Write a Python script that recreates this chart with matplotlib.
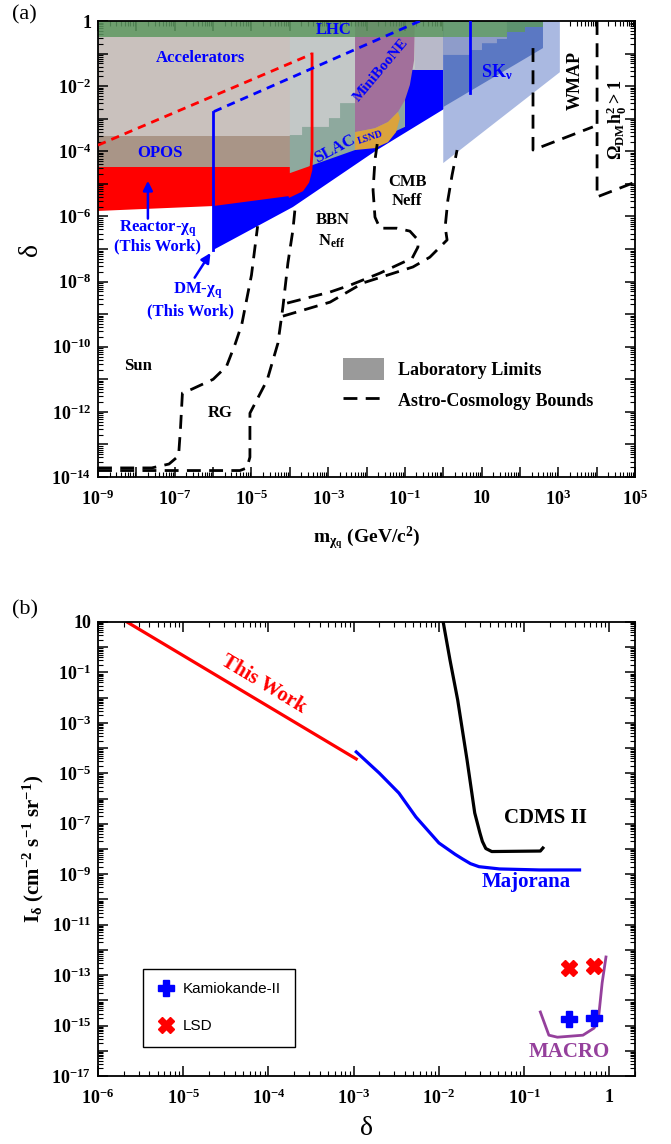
import numpy as np
import matplotlib.pyplot as plt
from matplotlib.patches import Patch
from matplotlib.lines import Line2D
from matplotlib.ticker import FixedLocator, LogLocator, NullFormatter, FuncFormatter

plt.rcParams['font.family'] = 'Liberation Serif'
plt.rcParams['font.weight'] = 'bold'
plt.rcParams['axes.labelweight'] = 'bold'
plt.rcParams['mathtext.default'] = 'regular'

# ---------------- panel (a): log10(m / GeV c^-2) and log10(delta) ----------------
lhc_logm = [-9, 2.60, 2.60, 2.13, 2.13, 1.66, 1.66, -9]
lhc_logd = [0, 0, -0.18, -0.18, -0.34, -0.34, -0.49, -0.49]

acc_logm = [-9, -4, -4, -9]
acc_logd = [0, 0, -3.53, -3.53]
opos_logm = [-9, -4, -4, -9]
opos_logd = [-3.53, -3.53, -4.48, -4.48]
beam_logm = [-4, 0, 0, -1, -1, -4]
beam_logd = [0, 0, -1.5, -1.5, -3.25, -3.6]
beam2_logm = [-0.74, 0, 0, -0.74]
beam2_logd = [0, 0, -1.5, -1.5]

slac_logm = [-4, -4, -3.68, -3.68, -2.98, -2.98, -2.69, -2.69, -2.30, -2.30, -1.21, -1.21, -1.0, -1.0, -2.30]
slac_logd = [-4.67, -3.50, -3.50, -3.25, -3.25, -2.98, -2.98, -2.52, -2.52, -1.96, -1.96, -1.50, -1.50, -3.25, -3.96]

mini_logm = [-2.30, -0.74, -0.76, -0.87, -1.0, -1.18, -1.44, -1.78, -2.30]
mini_logd = [0, 0, -1.20, -1.96, -2.43, -2.79, -3.10, -3.29, -3.41]

lsnd_logm = [-2.30, -1.78, -1.44, -1.18, -1.13, -1.23, -1.44, -1.78, -2.30]
lsnd_logd = [-3.41, -3.29, -3.10, -2.79, -2.98, -3.41, -3.72, -3.90, -3.96]

sk_light_logm = [0, 3.04, 3.04, 0]
sk_light_logd = [0, 0, -1.57, -4.36]
sk_strip_logm = [0, 1.66, 1.66, 0]
sk_strip_logd = [-0.49, -0.49, -1.04, -1.04]
sk_logm = [0, 0.70, 0.70, 1.01, 1.01, 1.40, 1.40, 1.66, 1.66, 2.60, 2.60, 0]
sk_logd = [-1.04, -1.04, -0.89, -0.89, -0.68, -0.68, -0.55, -0.55, 0, 0, -0.83, -2.64]

dm_logm = [-6.0, -3.92, -1.73, 0.70, 0.70, -0.61, -6.0]
dm_logd = [-7.03, -5.71, -3.96, -2.21, 0, 0, -2.79]

reactor_logm = [-9.0, -6.0, -4.0, -3.68, -3.53, -3.45, -3.42, -3.42, -9.0]
reactor_logd = [-5.83, -5.68, -5.37, -5.19, -4.94, -4.57, -4.0, -1.01, -3.81]

sun_logm = [-9.0, -7.6, -7.15, -6.9, -6.85, -6.8, -6.55, -6.0, -5.65, -5.42, -5.25, -5.0, -4.84]
sun_logd = [-13.72, -13.72, -13.6, -13.35, -12.5, -11.42, -11.3, -11.0, -10.6, -9.9, -9.3, -7.8, -6.3]
rg_logm = [-9.0, -5.3, -5.12, -5.04, -5.04, -4.59, -4.31, -4.18, -4.05, -3.92, -3.86]
rg_logd = [-13.8, -13.8, -13.72, -13.39, -12.04, -11.02, -9.89, -8.78, -7.43, -6.42, -5.71]
bbn_in_logm = [-4.07, -2.95, -2.43, -1.65, -0.81, -0.66, -0.66, -0.87, -1.21, -1.65, -1.78, -1.83, -1.78, -1.70]
bbn_in_logd = [-8.66, -8.32, -8.11, -7.74, -7.28, -6.94, -6.72, -6.45, -6.36, -6.36, -6.02, -5.19, -4.27, -3.59]
bbn_out_logm = [-4.18, -2.95, -2.09, -0.79, -0.35, 0.10, 0.05, 0.12, 0.23, 0.36]
bbn_out_logd = [-9.06, -8.63, -8.04, -7.55, -7.25, -6.72, -6.32, -5.50, -4.73, -3.96]
wmap_logm = [2.34, 2.34, 3.90]
wmap_logd = [-0.83, -3.96, -3.25]
omega_logm = [4.01, 4.01, 4.95, 5.0]
omega_logd = [0, -5.40, -4.97, -4.94]

# ---------------- panel (b): log10(delta) and log10(I) ----------------
thiswork_logx = [-5.66, -2.97]
thiswork_logy = [1.0, -4.43]
majorana_logx = [-2.97, -2.70, -2.47, -2.27, -2.00, -1.81, -1.72, -1.63, -1.53, -1.29, -0.82, -0.35]
majorana_logy = [-4.15, -4.99, -5.78, -6.73, -7.76, -8.21, -8.40, -8.58, -8.70, -8.79, -8.83, -8.83]
cdms_logx = [-1.95, -1.87, -1.78, -1.67, -1.58, -1.52, -1.49, -1.45, -1.38, -0.81, -0.78]
cdms_logy = [1.0, -0.51, -2.09, -4.47, -6.57, -7.35, -7.70, -7.98, -8.10, -8.08, -7.96]
macro_logx = [-0.81, -0.71, -0.61, -0.31, -0.18, -0.13, -0.085, -0.04]
macro_logy = [-14.46, -15.38, -15.46, -15.38, -15.10, -14.78, -13.31, -12.28]
kamioka_delta = [1 / 3, 2 / 3]
kamioka_flux = [1.8e-15, 2.0e-15]
lsd_delta = [1 / 3, 2 / 3]
lsd_flux = [1.9e-13, 2.3e-13]

BLUE = '#0000ff'


def pw(a):
    return 10.0 ** np.asarray(a, dtype=float)


def fmt_every(parity):
    def f(v, pos):
        e = int(round(np.log10(v)))
        if parity is not None and e % 2 != parity:
            return ''
        if e == 0:
            return '1'
        if e == 1:
            return '10'
        return r'$10^{%d}$' % e
    return FuncFormatter(f)


def style_axis(ax):
    ax.tick_params(which='both', direction='in', top=True, right=True, labelsize=13)
    ax.tick_params(axis='x', which='major', pad=9)
    ax.tick_params(axis='y', which='major', pad=5)
    ax.tick_params(which='major', length=7, width=1.1)
    ax.tick_params(which='minor', length=3.5, width=0.8)
    for s in ax.spines.values():
        s.set_linewidth(1.3)


fig = plt.figure(figsize=(6.71, 11.44), dpi=100)

# ======================= (a) =======================
ax = fig.add_axes([0.1461, 0.5830, 0.8003, 0.3986])
ax.set_xscale('log')
ax.set_yscale('log')
ax.set_xlim(1e-9, 1e5)
ax.set_ylim(1e-14, 1)

ax.fill(pw(dm_logm), pw(dm_logd), color=BLUE, lw=0, zorder=1)
ax.fill(pw(reactor_logm), pw(reactor_logd), color='#ff0000', lw=0, zorder=1.1)
ax.fill(pw(acc_logm), pw(acc_logd), color='#c9c1bd', lw=0, zorder=1.2)
ax.fill(pw(opos_logm), pw(opos_logd), color='#a99587', lw=0, zorder=1.3)
ax.fill(pw(beam_logm), pw(beam_logd), color='#c3c8c7', lw=0, zorder=1.2)
ax.fill(pw(beam2_logm), pw(beam2_logd), color='#b8b9c9', lw=0, zorder=1.25)
ax.fill(pw(slac_logm), pw(slac_logd), color='#8ea99e', lw=0, zorder=1.4)
ax.fill(pw(mini_logm), pw(mini_logd), color='#a2709b', lw=0, zorder=1.5)
ax.fill(pw(lsnd_logm), pw(lsnd_logd), color='#dba33c', lw=0, zorder=1.5)
ax.fill(pw(sk_light_logm), pw(sk_light_logd), color='#aab9e1', lw=0, zorder=1.6)
ax.fill(pw(sk_strip_logm), pw(sk_strip_logd), color='#8e9cca', lw=0, zorder=1.65)
ax.fill(pw(sk_logm), pw(sk_logd), color='#5b78c3', lw=0, zorder=1.7)
ax.fill(pw(lhc_logm), pw(lhc_logd), color='#5e9861', alpha=0.85, lw=0, zorder=1.8)

# reactor and DM limit lines
rm, rd = np.array(reactor_logm), np.array(reactor_logd)
ax.plot(pw(rm[2:8]), pw(rd[2:8]), color='#ff0000', lw=2.0, zorder=3)
ax.plot(pw(rm[[8, 7]]), pw(rd[[8, 7]]), color='#ff0000', lw=2.0, dashes=(3, 2.2), zorder=3)
dmm, dmd = np.array(dm_logm), np.array(dm_logd)
ax.plot(pw(dmm[[6, 0]]), pw(dmd[[6, 0]]), color=BLUE, lw=2.0, zorder=3)
ax.plot(pw(dmm[[3, 4]]), pw(dmd[[3, 4]]), color=BLUE, lw=2.0, zorder=3)
ax.plot(pw(dmm[[5, 6]]), pw(dmd[[5, 6]]), color=BLUE, lw=2.0, dashes=(3, 2.2), zorder=3)

# astro / cosmology bounds
dash = (5, 3)
for lm, ld in [(sun_logm, sun_logd), (rg_logm, rg_logd), (bbn_in_logm, bbn_in_logd),
               (bbn_out_logm, bbn_out_logd), (wmap_logm, wmap_logd), (omega_logm, omega_logd)]:
    ax.plot(pw(lm), pw(ld), color='k', lw=2.0, dashes=dash, zorder=3)

# labels
tkw = dict(ha='center', va='center', fontsize=12, zorder=5)
ax.text(10**-2.87, 10**-0.27, 'LHC', color=BLUE, **tkw)
ax.text(10**-6.34, 10**-1.14, 'Accelerators', color=BLUE, **tkw)
ax.text(10**-7.38, 10**-4.05, 'OPOS', color=BLUE, **tkw)
ax.text(10**-7.44, 10**-6.39, 'Reactor-χ$_q$', color=BLUE, **tkw)
ax.text(10**-7.46, 10**-6.93, '(This Work)', color=BLUE, **tkw)
ax.text(10**-6.39, 10**-8.29, 'DM-χ$_q$', color=BLUE, **tkw)
ax.text(10**-6.60, 10**-8.90, '(This Work)', color=BLUE, **tkw)
ax.annotate('', xy=(10**-7.70, 10**-4.82), xytext=(10**-7.70, 10**-6.15),
            arrowprops=dict(arrowstyle='-|>', color=BLUE, lw=1.8, mutation_scale=14), zorder=5)
ax.annotate('', xy=(10**-6.03, 10**-7.05), xytext=(10**-6.52, 10**-7.95),
            arrowprops=dict(arrowstyle='-|>', color=BLUE, lw=1.8, mutation_scale=14), zorder=5)
ax.text(10**-2.84, 10**-3.92, 'SLAC', color=BLUE, rotation=28, **tkw)
ax.text(10**-1.90, 10**-3.58, 'LSND', color=BLUE, rotation=18, ha='center', va='center',
        fontsize=7, zorder=5)
ax.text(10**-1.62, 10**-1.50, 'MiniBooNE', color=BLUE, rotation=50, ha='center', va='center',
        fontsize=11, zorder=5)
ax.text(10**1.40, 10**-1.57, '$SK_{\\nu}$', color=BLUE, ha='center', va='center', fontsize=13, zorder=5)
ax.text(10**3.43, 10**-1.81, 'WMAP', color='k', rotation=90, ha='center', va='center', fontsize=13, zorder=5)
ax.text(10**4.53, 10**-3.04, '$\\Omega_{DM}h_0^2 > 1$', color='k', rotation=90, ha='center',
        va='center', fontsize=13, zorder=5)
ax.text(10**-0.94, 10**-4.94, 'CMB', color='k', **tkw)
ax.text(10**-0.94, 10**-5.53, 'Neff', color='k', **tkw)
ax.text(10**-2.87, 10**-6.11, 'BBN', color='k', **tkw)
ax.text(10**-2.90, 10**-6.75, '$N_{eff}$', color='k', **tkw)
ax.text(10**-7.96, 10**-10.59, 'Sun', color='k', **tkw)
ax.text(10**-5.82, 10**-12.04, 'RG', color='k', **tkw)

handles = [Patch(facecolor='#9a9a9a', edgecolor='none'),
           Line2D([], [], color='k', lw=2.0, dashes=dash)]
ax.legend(handles, ['Laboratory Limits', 'Astro-Cosmology Bounds'], loc='upper left',
          bbox_to_anchor=(0.425, 0.296), frameon=False, fontsize=13, handlelength=2.3,
          handleheight=1.5, labelspacing=0.5, handletextpad=0.8)

ax.xaxis.set_major_locator(FixedLocator(10.0 ** np.arange(-9, 6)))
ax.xaxis.set_major_formatter(fmt_every(1))
ax.yaxis.set_major_locator(FixedLocator(10.0 ** np.arange(-14, 1)))
ax.yaxis.set_major_formatter(fmt_every(0))
for a in (ax.xaxis, ax.yaxis):
    a.set_minor_locator(LogLocator(base=10, subs=np.arange(2, 10), numticks=100))
    a.set_minor_formatter(NullFormatter())
style_axis(ax)
ax.set_xlabel('m$_{χ_q}$ (GeV/c$^2$)', fontsize=14, labelpad=11)
ax.set_ylabel('δ', fontsize=20, fontweight='normal', labelpad=6)

# ======================= (b) =======================
bx = fig.add_axes([0.1461, 0.0594, 0.8003, 0.3969])
bx.set_xscale('log')
bx.set_yscale('log')
bx.set_xlim(1e-6, 2)
bx.set_ylim(1e-17, 10)

bx.plot(pw(thiswork_logx), pw(thiswork_logy), color='#ff0000', lw=2.3)
bx.plot(pw(majorana_logx), pw(majorana_logy), color=BLUE, lw=2.3)
bx.plot(pw(cdms_logx), pw(cdms_logy), color='k', lw=2.3)
bx.plot(pw(macro_logx), pw(macro_logy), color='#95409c', lw=2.0)
bx.plot(kamioka_delta, kamioka_flux, ls='none', marker='P', ms=11, color=BLUE, mec=BLUE,
        label='Kamiokande-II')
bx.plot(lsd_delta, lsd_flux, ls='none', marker='X', ms=11, color='#ff0000', mec='#ff0000',
        label='LSD')

bx.text(10**-4.06, 10**-1.46, 'This Work', color='#ff0000', rotation=-31, ha='center',
        va='center', fontsize=15)
bx.text(10**-0.75, 10**-6.77, 'CDMS II', color='k', ha='center', va='center', fontsize=15)
bx.text(10**-0.98, 10**-9.31, 'Majorana', color=BLUE, ha='center', va='center', fontsize=15)
bx.text(10**-0.47, 10**-16.05, 'MACRO', color='#95409c', ha='center', va='center', fontsize=15)

leg = bx.legend(loc='lower left', bbox_to_anchor=(0.084, 0.064), borderaxespad=0,
                frameon=True, fancybox=False, edgecolor='k', framealpha=1,
                prop=dict(family='Liberation Sans', weight='normal', size=11),
                labelspacing=1.5, borderpad=0.9, handletextpad=0.5, handlelength=1.2)
leg.get_frame().set_linewidth(1.0)

bx.xaxis.set_major_locator(FixedLocator(10.0 ** np.arange(-6, 1)))
bx.xaxis.set_major_formatter(fmt_every(None))
bx.yaxis.set_major_locator(FixedLocator(10.0 ** np.arange(-17, 2)))
bx.yaxis.set_major_formatter(fmt_every(1))
for a in (bx.xaxis, bx.yaxis):
    a.set_minor_locator(LogLocator(base=10, subs=np.arange(2, 10), numticks=100))
    a.set_minor_formatter(NullFormatter())
style_axis(bx)
bx.set_xlabel('δ', fontsize=20, fontweight='normal', labelpad=6)
bx.set_ylabel('I$_δ$ (cm$^{-2}$ s$^{-1}$ sr$^{-1}$)', fontsize=15, labelpad=4)

fig.text(0.037, 0.987, '(a)', fontsize=16, fontweight='normal', ha='center', va='center')
fig.text(0.037, 0.467, '(b)', fontsize=16, fontweight='normal', ha='center', va='center')

fig.savefig('out.png', dpi=100)
